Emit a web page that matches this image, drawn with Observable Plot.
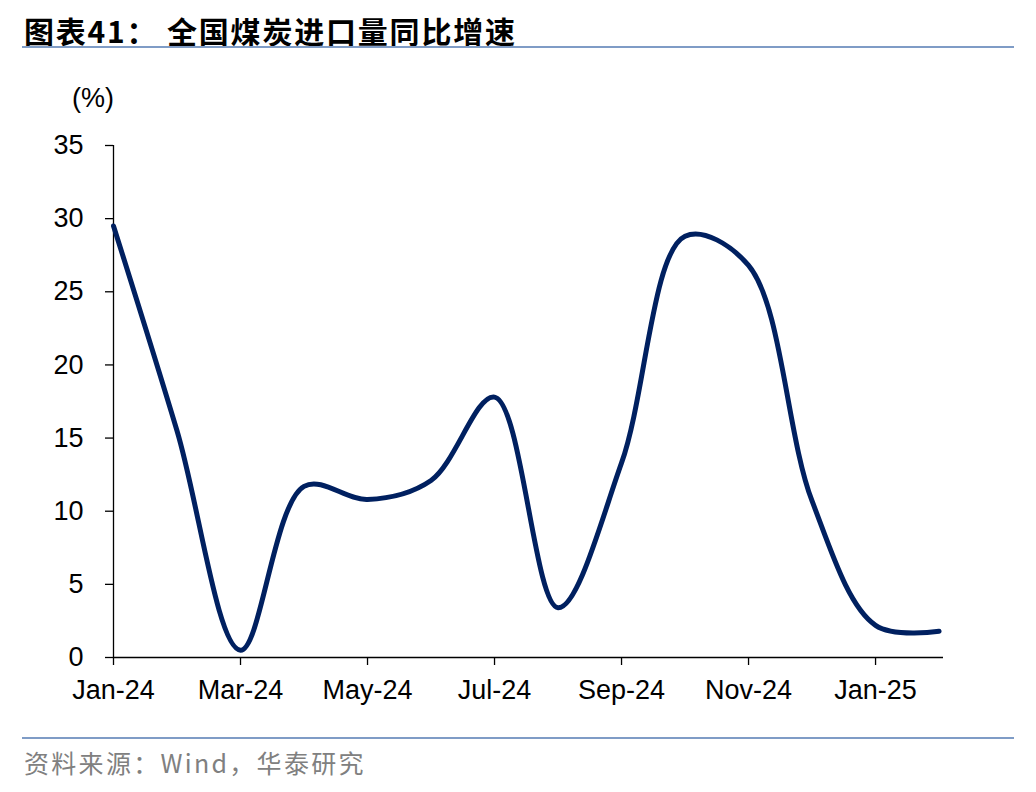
<!DOCTYPE html>
<html><head><meta charset="utf-8">
<script src="https://cdn.jsdelivr.net/npm/d3@7"></script>
<script src="https://cdn.jsdelivr.net/npm/@observablehq/plot@0.6"></script>
<style>
body{margin:0;background:#fff;width:1036px;height:792px;position:relative;overflow:hidden;font-family:"Liberation Sans",Arial,sans-serif;}
#title{position:absolute;left:24px;top:10px;font-family:"Noto Sans CJK SC";font-weight:700;font-size:30px;color:#000;letter-spacing:1.8px;line-height:40px;}
.hr{position:absolute;left:22px;width:992px;height:2px;background:#7f9cc6;}
#src{position:absolute;left:24px;top:744px;font-family:"Noto Sans CJK SC";font-size:25px;color:#808080;line-height:36px;letter-spacing:2.3px;}
#unit{position:absolute;left:72px;top:83px;font-size:27px;color:#000;}
#chart{position:absolute;left:0;top:0;}
</style></head><body>
<div id="title">图表41：&nbsp;全国煤炭进口量同比增速</div>
<div class="hr" style="top:46px"></div>
<div id="unit">(%)</div>
<div id="chart"></div>
<div class="hr" style="top:737px"></div>
<div id="src">资料来源：Wind，华泰研究</div>
<script>
const months = ["Jan-24","Feb-24","Mar-24","Apr-24","May-24","Jun-24","Jul-24","Aug-24","Sep-24","Oct-24","Nov-24","Dec-24","Jan-25","Feb-25"];
const values = [29.5, 15.5, 0.5, 11.7, 10.8, 12.1, 17.8, 3.4, 13.3, 28.8, 26.8, 10.7, 2.2, 1.8];
const yTicks = [0, 5, 10, 15, 20, 25, 30, 35];
const data = months.map((m, i) => ({i, m, v: values[i]}));
const xTicks = d3.range(0, months.length, 2);
const chart = Plot.plot({
  width: 1036, height: 792,
  marginLeft: 113, marginRight: 93, marginTop: 145, marginBottom: 135,
  style: {fontFamily: "Liberation Sans, Arial, sans-serif", fontSize: "27px", color: "#000", background: "transparent"},
  x: {domain: [0, 13.07], axis: null},
  y: {domain: [0, 35], axis: null},
  marks: [
    Plot.ruleX([0], {stroke: "#000", strokeWidth: 1.3}),
    Plot.ruleY([0], {stroke: "#000", strokeWidth: 1.3}),
    Plot.axisY({ticks: yTicks, tickSize: 8, tickPadding: 22, tickFormat: d => d, fontSize: 27, strokeWidth: 1.3, label: null}),
    Plot.axisX({ticks: xTicks, tickSize: 8, tickPadding: 14, tickFormat: d => months[d], fontSize: 27, strokeWidth: 1.3, label: null}),
    Plot.line(data, {x: "i", y: "v", curve: "catmull-rom", stroke: "#002060", strokeWidth: 5, strokeLinecap: "round"})
  ]
});
document.getElementById("chart").appendChild(chart);
</script>
</body></html>
